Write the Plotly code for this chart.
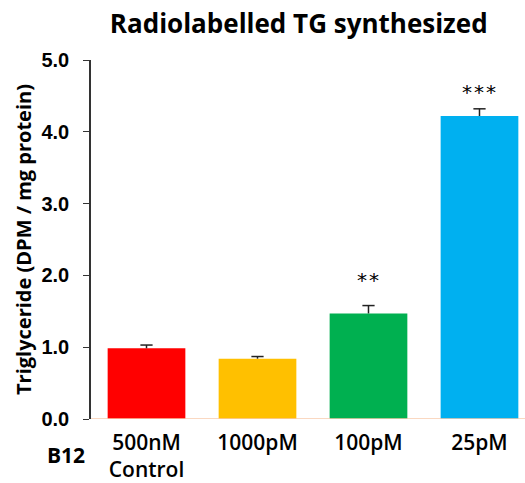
import plotly.graph_objects as go

categories = ["500nM<br>Control", "1000pM", "100pM", "25pM"]
values = [0.985, 0.84, 1.47, 4.22]
errors = [0.045, 0.03, 0.11, 0.10]
colors = ["#FF0000", "#FFC000", "#00B050", "#00B0F0"]
signif = ["", "", "*\u200a*", "*\u200a*\u200a*"]
signif_y = [None, None, 1.93, 4.56]
tick_vals = [0, 1, 2, 3, 4, 5]
tick_text = ["0.0", "1.0", "2.0", "3.0", "4.0", "5.0"]

xs = list(range(len(categories)))
cap = 0.055

fig = go.Figure()
fig.add_trace(go.Bar(
    x=xs, y=values,
    marker=dict(color=colors, line=dict(width=0)),
    width=0.70,
))

# upward-only error bars
ex, ey = [], []
for x, v, e in zip(xs, values, errors):
    ex += [x, x, None, x - cap, x + cap, None]
    ey += [v, v + e, None, v + e, v + e, None]
fig.add_trace(go.Scatter(x=ex, y=ey, mode="lines", line=dict(color="#222222", width=1.5),
                         hoverinfo="skip"))

for i, s in enumerate(signif):
    if s:
        fig.add_annotation(x=xs[i], y=signif_y[i], text=s, showarrow=False,
                           yanchor="middle",
                           font=dict(family="DejaVu Sans", size=20, color="black"))

fig.add_shape(type="line", xref="paper", yref="y", x0=0, x1=1, y0=0, y1=0,
              line=dict(color="#F8CBAD", width=1.5))

fig.add_annotation(xref="paper", yref="paper", x=-0.105, y=-0.0997, text="<b>B12</b>",
                   showarrow=False, xanchor="left", yanchor="middle",
                   font=dict(family="Open Sans", size=21, color="black"))

fig.update_layout(
    width=525, height=483,
    margin=dict(l=91, r=0, t=60, b=62),
    plot_bgcolor="white", paper_bgcolor="white",
    showlegend=False,
    title=dict(text="<b>Radiolabelled TG synthesized</b>", x=0.569, xanchor="center",
               xref="container", y=0.95, yanchor="middle",
               font=dict(family="Open Sans", size=26, color="black")),
    xaxis=dict(range=[-0.5, 3.41], tickvals=xs, ticktext=categories,
               showline=False, ticks="", showgrid=False, zeroline=False,
               ticklabelstandoff=9,
               tickfont=dict(family="Open Sans", size=21, color="black", weight=600)),
    yaxis=dict(range=[0, 5], tickvals=tick_vals, ticktext=["<b>%s</b>" % t for t in tick_text],
               showline=True, linecolor="#333333", linewidth=1.5, ticks="outside",
               ticklen=6, tickcolor="#333333", showgrid=False, zeroline=False,
               ticklabelstandoff=10,
               tickfont=dict(family="Liberation Sans", size=20, color="black"),
               title=dict(text="<b>Triglyceride (DPM / mg protein)</b>", standoff=4,
                          font=dict(family="Open Sans", size=20, color="black"))),
)

fig.write_html("out.html")
